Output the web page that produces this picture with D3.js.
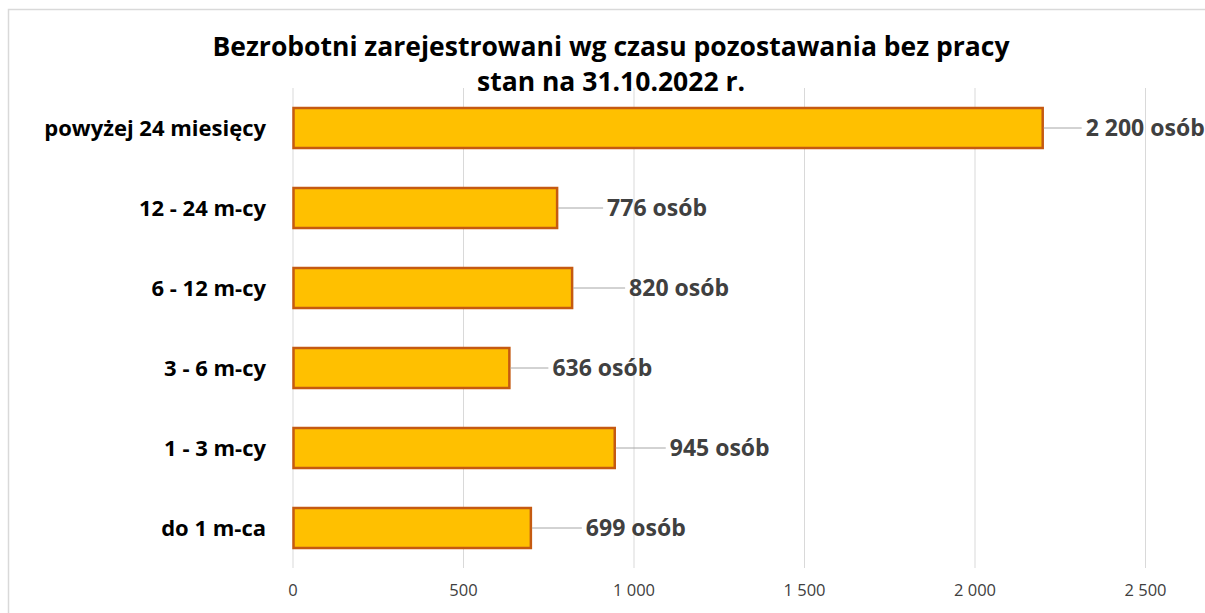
<!DOCTYPE html>
<html>
<head>
<meta charset="utf-8">
<script src="https://cdn.jsdelivr.net/npm/d3@7"></script>
<style>
body{margin:0;background:#fff;}
text{font-family:"Open Sans",sans-serif;}
.title{font-size:26.5px;font-weight:bold;fill:#000;}
.cat{font-size:22px;font-weight:bold;fill:#000;}
.val{font-size:23px;font-weight:bold;fill:#404040;}
.tick text{font-size:16.5px;fill:#404040;}
</style>
</head>
<body>
<div id="chart"></div>
<script>
var categories=['powyżej 24 miesięcy','12 - 24 m-cy','6 - 12 m-cy','3 - 6 m-cy','1 - 3 m-cy','do 1 m-ca'];
var values=[2200,776,820,636,945,699];
var tickValues=[0,500,1000,1500,2000,2500];
var titleLines=['Bezrobotni zarejestrowani wg czasu pozostawania bez pracy','stan na 31.10.2022 r.'];
// label gaps (px from bar end), layout only
var labelGap=[43,50,57,43,55,55];

var W=1205,H=613;
var svg=d3.select('#chart')
    .append('svg')
    .attr('width',W)
    .attr('height',H);

// frame
svg.append('rect')
    .attr('x',8.5).attr('y',9.5)
    .attr('width',W).attr('height',H)
    .attr('fill','none')
    .attr('stroke','#d9d9d9')
    .attr('stroke-width',1.5);

var x=d3.scaleLinear()
    .domain([0,2500])
    .range([292.5,1145]);
var y=d3.scaleBand()
    .domain(categories)
    .range([88,568])
    .paddingInner(0.5)
    .paddingOuter(0.25);

// gridlines
svg.selectAll('.grid')
    .data(tickValues)
    .enter()
    .append('line')
    .attr('class','grid')
    .attr('x1',function(d){return x(d)+0.5;})
    .attr('x2',function(d){return x(d)+0.5;})
    .attr('y1',88)
    .attr('y2',568)
    .attr('stroke','#d9d9d9')
    .attr('stroke-width',1);

// x axis labels
var fmt=function(d){
    return d3.format(',')(d).replace(/,/g,' ');
};
var xAxis=d3.axisBottom(x)
    .tickValues(tickValues)
    .tickSize(0)
    .tickPadding(0)
    .tickFormat(fmt);
var gx=svg.append('g')
    .attr('transform','translate(0,584)')
    .call(xAxis);
gx.select('.domain').remove();
gx.selectAll('text').attr('dy','0.71em');

// title
svg.selectAll('.title')
    .data(titleLines)
    .enter()
    .append('text')
    .attr('class','title')
    .attr('x',611)
    .attr('y',function(d,i){return 56+i*35;})
    .attr('text-anchor','middle')
    .text(function(d){return d;});

// bars
svg.selectAll('.bar')
    .data(values)
    .enter()
    .append('rect')
    .attr('class','bar')
    .attr('x',x(0)+1)
    .attr('y',function(d,i){return y(categories[i]);})
    .attr('width',function(d){return x(d)-x(0)-1;})
    .attr('height',y.bandwidth())
    .attr('fill','#ffc000')
    .attr('stroke','#c55a11')
    .attr('stroke-width',2.5);

// category labels
svg.selectAll('.cat')
    .data(categories)
    .enter()
    .append('text')
    .attr('class','cat')
    .attr('x',266)
    .attr('y',function(d){return y(d)+y.bandwidth()/2;})
    .attr('dy','0.35em')
    .attr('text-anchor','end')
    .text(function(d){return d;});

// leader lines
svg.selectAll('.leader')
    .data(values)
    .enter()
    .append('line')
    .attr('class','leader')
    .attr('x1',function(d){return x(d)+1;})
    .attr('x2',function(d,i){return x(d)+labelGap[i]-4;})
    .attr('y1',function(d,i){return y(categories[i])+y.bandwidth()/2;})
    .attr('y2',function(d,i){return y(categories[i])+y.bandwidth()/2;})
    .attr('stroke','#a6a6a6')
    .attr('stroke-width',1);

// value labels
svg.selectAll('.val')
    .data(values)
    .enter()
    .append('text')
    .attr('class','val')
    .attr('x',function(d,i){return x(d)+labelGap[i];})
    .attr('y',function(d,i){return y(categories[i])+y.bandwidth()/2;})
    .attr('dy','0.35em')
    .text(function(d){return fmt(d)+' osób';});
</script>
</body>
</html>
